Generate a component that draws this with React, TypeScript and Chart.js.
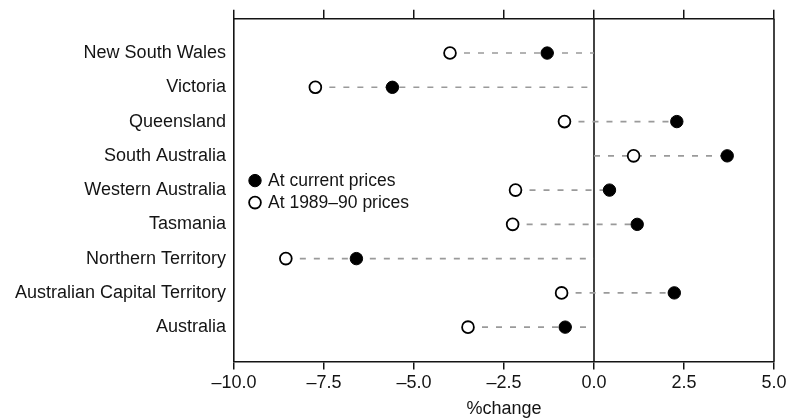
import React, { useEffect, useRef } from "react";
import { Chart, registerables } from "chart.js";

Chart.register(...registerables);

const regions = [
  "New South Wales",
  "Victoria",
  "Queensland",
  "South Australia",
  "Western Australia",
  "Tasmania",
  "Northern Territory",
  "Australian Capital Territory",
  "Australia",
];
const currentPrices = [-1.3, -5.6, 2.3, 3.7, 0.43, 1.2, -6.6, 2.23, -0.8];
const constantPrices = [-4.0, -7.74, -0.82, 1.1, -2.18, -2.26, -8.56, -0.9, -3.5];
const seriesLabels = ["At current prices", "At 1989–90 prices"];
const xMin = -10;
const xMax = 5;
const xStep = 2.5;
const axisTitle = "%change";

const FONT = "'Liberation Sans', Arial, sans-serif";
const INK = "#141414";

const fmt = (v: number) => (v < 0 ? "\u2013" : "") + Math.abs(v).toFixed(1);

const framePlugin = {
  id: "frameLines",
  beforeDatasetsDraw(chart: any) {
    const { ctx, chartArea, scales } = chart;
    const x0 = scales.x.getPixelForValue(0);
    const xr = scales.x.getPixelForValue(xMax);
    ctx.save();
    ctx.strokeStyle = INK;
    ctx.lineWidth = 1.6;
    ctx.beginPath();
    ctx.moveTo(x0, chartArea.top);
    ctx.lineTo(x0, chartArea.bottom);
    ctx.moveTo(xr, chartArea.top);
    ctx.lineTo(xr, chartArea.bottom);
    ctx.stroke();
    ctx.restore();
  },
};

const innerLegendPlugin = {
  id: "innerLegend",
  afterDatasetsDraw(chart: any) {
    const { ctx, chartArea } = chart;
    const mid = (chartArea.top + chartArea.bottom) / 2;
    const cx = chartArea.left + 21;
    const rows = [mid - 9.5, mid + 12.5];
    ctx.save();
    [0, 1].forEach((i) => {
      const ds = chart.data.datasets[i];
      const y = rows[i];
      ctx.beginPath();
      ctx.arc(cx, y, ds.pointRadius, 0, Math.PI * 2);
      ctx.fillStyle = ds.backgroundColor;
      ctx.fill();
      ctx.lineWidth = ds.borderWidth;
      ctx.strokeStyle = ds.borderColor;
      ctx.stroke();
      ctx.fillStyle = INK;
      ctx.font = `17.5px ${FONT}`;
      ctx.textBaseline = "middle";
      ctx.textAlign = "left";
      ctx.fillText(ds.label, cx + 13, y + 1);
    });
    ctx.restore();
  },
};

export default function App() {
  const ref = useRef<HTMLCanvasElement | null>(null);

  useEffect(() => {
    if (!ref.current) return;
    const lineSets = regions.map((r, i) => {
      const vals = [0, currentPrices[i], constantPrices[i]];
      const lo = Math.min(...vals);
      const hi = Math.max(...vals);
      return {
        label: r,
        data: [
          { x: lo, y: i + 1 },
          { x: hi, y: i + 1 },
        ],
        showLine: true,
        borderColor: "#9a9a9a",
        borderWidth: 1.6,
        borderDash: [6, 8],
        pointRadius: 0,
        order: 2,
      };
    });

    const chart = new Chart(ref.current, {
      type: "scatter",
      data: {
        datasets: [
          {
            label: seriesLabels[0],
            data: regions.map((_, i) => ({ x: currentPrices[i], y: i + 1 })),
            backgroundColor: "#000",
            borderColor: "#000",
            borderWidth: 1,
            pointRadius: 6.2,
            order: 0,
          },
          {
            label: seriesLabels[1],
            data: regions.map((_, i) => ({ x: constantPrices[i], y: i + 1 })),
            backgroundColor: "#fff",
            borderColor: "#000",
            borderWidth: 1.8,
            pointRadius: 5.9,
            order: 1,
          },
          ...lineSets,
        ] as any,
      },
      options: {
        animation: false,
        responsive: false,
        devicePixelRatio: 1,
        layout: { padding: { left: 8, right: 18, top: 9, bottom: 0 } },
        plugins: {
          legend: { display: false },
          tooltip: { enabled: false },
        },
        scales: {
          x: {
            type: "linear",
            position: "bottom",
            min: xMin,
            max: xMax,
            ticks: {
              stepSize: xStep,
              callback: (v: any) => fmt(Number(v)),
              color: INK,
              font: { family: FONT, size: 18 },
              padding: 3,
              maxRotation: 0,
            },
            grid: {
              drawOnChartArea: false,
              tickLength: 8,
              color: INK,
              lineWidth: 1.5,
            },
            border: { display: true, color: INK, width: 1.6 },
            title: {
              display: true,
              text: axisTitle,
              color: INK,
              font: { family: FONT, size: 18, lineHeight: 1 },
              padding: { top: 3, bottom: 0 },
            },
          },
          xTop: {
            type: "linear",
            position: "top",
            min: xMin,
            max: xMax,
            ticks: { stepSize: xStep, display: false },
            grid: {
              drawOnChartArea: false,
              tickLength: 9,
              color: INK,
              lineWidth: 1.5,
            },
            border: { display: true, color: INK, width: 1.6 },
          },
          y: {
            type: "linear",
            position: "left",
            reverse: true,
            min: 0,
            max: 10,
            afterBuildTicks: (axis: any) => {
              axis.ticks = regions.map((_, i) => ({ value: i + 1 }));
            },
            afterFit: (axis: any) => {
              axis.width = 226;
            },
            ticks: {
              autoSkip: false,
              callback: (v: any) => regions[Number(v) - 1] ?? "",
              color: INK,
              font: { family: FONT, size: 18 },
              padding: 8,
            },
            grid: { display: false, drawTicks: false },
            border: { display: true, color: INK, width: 1.6 },
          },
        },
      } as any,
      plugins: [framePlugin, innerLegendPlugin],
    });
    return () => chart.destroy();
  }, []);

  return (
    <div style={{ position: "fixed", left: 0, top: 0, width: 792, height: 418, background: "#fff" }}>
      <canvas ref={ref} width={792} height={418} style={{ width: 792, height: 418 }} />
    </div>
  );
}
